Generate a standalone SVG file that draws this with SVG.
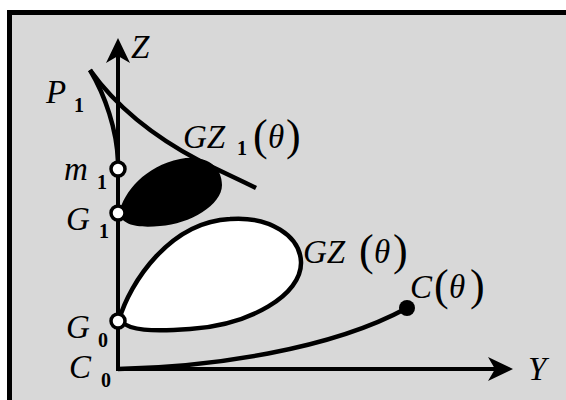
<svg xmlns="http://www.w3.org/2000/svg" width="566" height="400" viewBox="0 0 566 400">
<defs>
<style>
.t{font-family:"Liberation Serif","Times New Roman",serif;font-style:italic;font-size:33px;fill:#000}
.s{font-family:"Liberation Serif","Times New Roman",serif;font-style:normal;font-weight:bold;font-size:20px;fill:#000}
.p{font-family:"Liberation Serif","Times New Roman",serif;font-style:normal;font-size:44px;fill:#000}
.ln{fill:none;stroke:#000;stroke-width:4.5}
.ax{fill:none;stroke:#000;stroke-width:4}
.pt{fill:#fff;stroke:#000;stroke-width:3.5}
</style>
</defs>
<rect x="0" y="0" width="566" height="400" fill="#fff"/>
<rect x="12" y="15" width="554" height="385" fill="#d8d8d8"/>
<path d="M9.5,400 V12.5 H566" fill="none" stroke="#000" stroke-width="5"/>

<g id="regions">
<path id="gz1-region" d="M119,213 C124,192 145,166 180,159 C205,154 222,166 222,185 C222,205 190,224 160,226 C140,228 122,226 119,213 Z" fill="#000"/>
<path id="gz-region" d="M119,320 C130,282 170,222 230,219 C270,216 300,236 301,262 C302,295 250,325 190,329 C150,332 130,330 122,322 Z" fill="#fff" stroke="#000" stroke-width="4.5"/>
</g>

<g id="connectors">
<path class="ax" d="M118,56 V369 H497"/>
<path d="M118,38 L130,63 L118,56 L106,63 Z" fill="#000"/>
<path d="M513,369 L488,381 L495,369 L488,357 Z" fill="#000"/>
<path id="p1-curve" class="ln" d="M90,70 C105,95 117,130 118,162"/>
<path id="gz1-curve" class="ln" d="M90,70 C120,112 160,140 200,161 C220,171 240,180 256,188"/>
<path id="c-curve" class="ln" d="M118,369 C210,367 330,350 407,308"/>
</g>

<g id="node-m1">
<circle class="pt" cx="118" cy="169" r="7"/>
<text class="t" x="64" y="180">m<tspan class="s" x="97" y="189">1</tspan></text>
</g>
<g id="node-g1">
<circle class="pt" cx="118" cy="213" r="7"/>
<text class="t" x="66" y="230">G<tspan class="s" x="99" y="238">1</tspan></text>
</g>
<g id="node-g0">
<circle class="pt" cx="118" cy="321" r="7"/>
<text class="t" x="66" y="338">G<tspan class="s" x="98" y="347">0</tspan></text>
</g>
<g id="node-c0">
<text class="t" x="69" y="378">C<tspan class="s" x="101" y="387">0</tspan></text>
</g>
<g id="node-c">
<circle cx="407" cy="308" r="8" fill="#000"/>
</g>

<g id="labels">
<text class="t" x="131" y="58">Z</text>
<text class="t" x="528" y="380">Y</text>
<text class="t" x="46" y="103">P<tspan class="s" x="74" y="112">1</tspan></text>
<text class="t" x="183" y="148">GZ<tspan class="s" x="237" y="155">1</tspan><tspan class="p" x="253" y="150">(</tspan><tspan x="268" y="148">θ</tspan><tspan class="p" x="286" y="150">)</tspan></text>
<text class="t" x="303" y="263">GZ<tspan class="p" x="359" y="265">(</tspan><tspan x="374" y="263">θ</tspan><tspan class="p" x="393" y="265">)</tspan></text>
<text class="t" x="410" y="298">C<tspan class="p" x="434" y="300">(</tspan><tspan x="449" y="298">θ</tspan><tspan class="p" x="470" y="300">)</tspan></text>
</g>
</svg>
